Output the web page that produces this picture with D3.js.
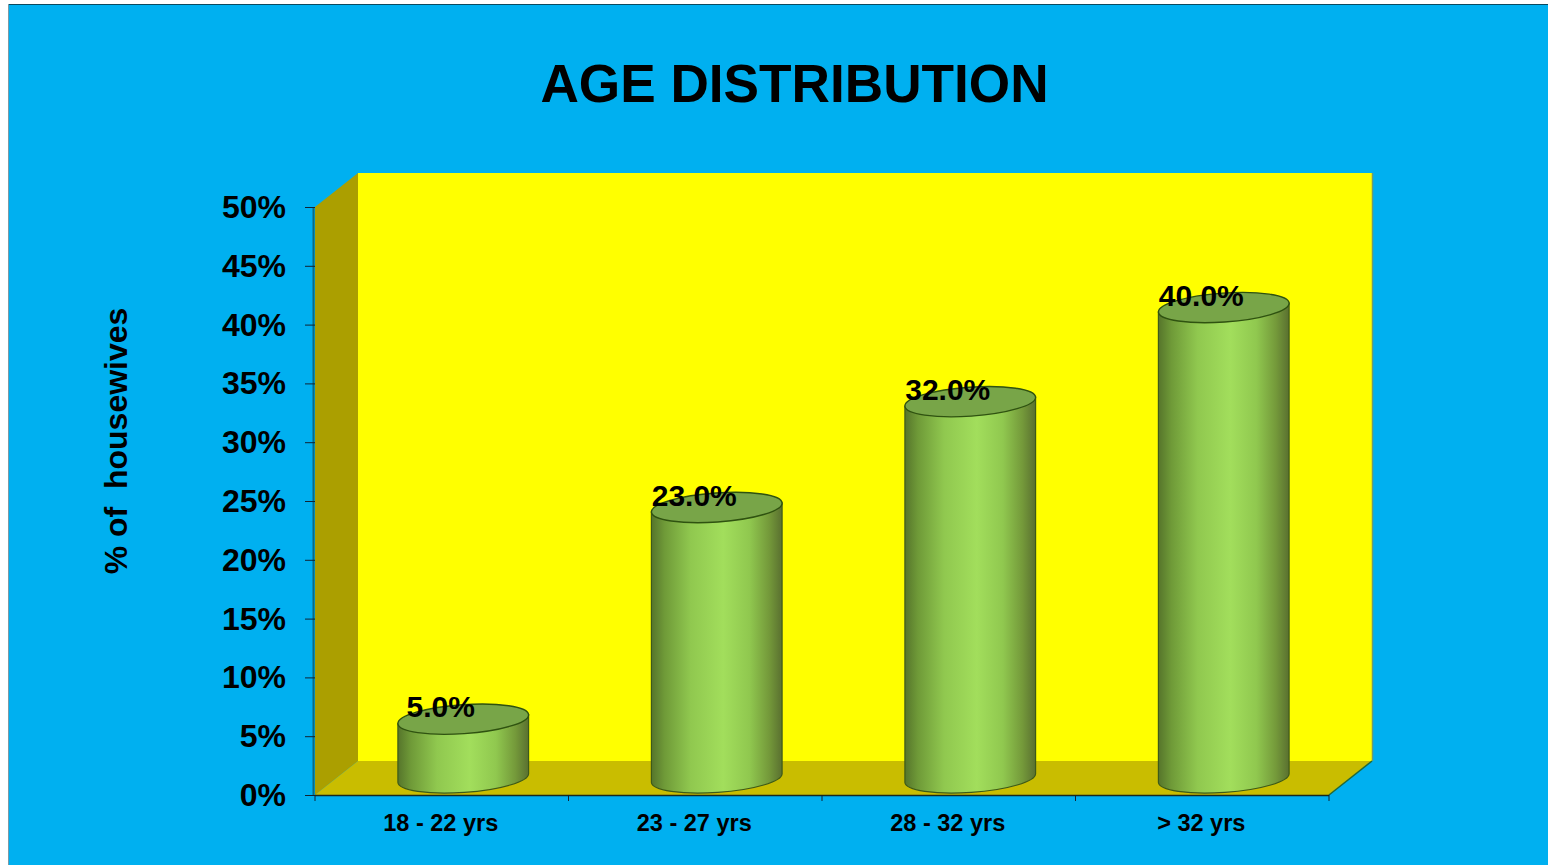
<!DOCTYPE html>
<html>
<head>
<meta charset="utf-8">
<script src="https://cdnjs.cloudflare.com/ajax/libs/d3/7.8.5/d3.min.js"></script>
<style>
html,body{margin:0;padding:0;background:#fff;overflow:hidden}
svg{display:block}
text{font-family:"Liberation Sans",Arial,sans-serif;font-weight:bold;fill:#000}
</style>
</head>
<body>
<svg id="chart" width="1548" height="865"></svg>
<script>
const categories = ["18 - 22 yrs", "23 - 27 yrs", "28 - 32 yrs", "> 32 yrs"];
const shares = [5, 23, 32, 40];
const percentTicks = [0, 5, 10, 15, 20, 25, 30, 35, 40, 45, 50];

const svg = d3.select("#chart");
const plot = {left: 315, right: 1329, top: 207, bottom: 795};
const depth = {x: 43, y: -34};

const x = d3.scaleBand().domain(categories).range([plot.left, plot.right]);
const y = d3.scaleLinear().domain([0, 50]).range([plot.bottom, plot.top]);

const defs = svg.append("defs");
const grad = defs.append("linearGradient").attr("id", "barBody");
[[0, "#56752b"], [0.1, "#6f9a38"], [0.3, "#90c84f"], [0.55, "#a2de5c"], [0.75, "#90c84f"], [0.9, "#74993a"], [1, "#5a7030"]]
  .forEach(([o, c]) => grad.append("stop").attr("offset", o).attr("stop-color", c));

// page panel
svg.append("rect").attr("x", 8).attr("y", 4).attr("width", 1540).attr("height", 861).attr("fill", "#00b0f0");
svg.append("line").attr("x1", 8).attr("x2", 1548).attr("y1", 4.5).attr("y2", 4.5).attr("stroke", "#0b4a60");
svg.append("line").attr("x1", 8.5).attr("x2", 8.5).attr("y1", 4).attr("y2", 865).attr("stroke", "#7d9aa6");

// 3D box: back wall, side wall, floor
const poly = pts => pts.map(p => p.join(",")).join(" ");
const L = plot.left, R = plot.right, T = plot.top, B = plot.bottom;
const dx = depth.x, dy = depth.y;
svg.append("polygon").attr("points", poly([[L + dx, T + dy], [R + dx, T + dy], [R + dx, B + dy], [L + dx, B + dy]]))
  .attr("fill", "#ffff00");
svg.append("line").attr("x1", R + dx + 0.5).attr("x2", R + dx + 0.5).attr("y1", T + dy).attr("y2", B + dy)
  .attr("stroke", "#6f9c70").attr("stroke-width", 1.5);
svg.append("polygon").attr("points", poly([[L, T], [L + dx, T + dy], [L + dx, B + dy], [L, B]]))
  .attr("fill", "#ab9f00");
svg.append("polygon").attr("points", poly([[L, B], [L + dx, B + dy], [R + dx, B + dy], [R, B]]))
  .attr("fill", "#c9bd00");
svg.append("line").attr("x1", R).attr("y1", B).attr("x2", R + dx).attr("y2", B + dy)
  .attr("stroke", "#1f6a3c").attr("stroke-width", 1.5);
svg.append("line").attr("x1", L - 1.5).attr("x2", L - 1.5).attr("y1", T).attr("y2", B)
  .attr("stroke", "#0f6a80").attr("stroke-width", 2);

// cylinders, their elliptical caps slightly tilted
const rx = 65.5, ry = 14.5, tilt = 4;
const ex = rx * Math.cos(tilt * Math.PI / 180), ey = rx * Math.sin(tilt * Math.PI / 180);
const bars = svg.append("g").selectAll("g").data(shares).join("g")
  .attr("transform", (d, i) => `translate(${x(categories[i]) + x.bandwidth() / 2 + dx / 2},${dy / 2})`);
bars.append("path")
  .attr("d", d => `M${-ex},${y(d) + ey} L${-ex},${y(0) + ey} A${rx},${ry} ${-tilt} 0 0 ${ex},${y(0) - ey} L${ex},${y(d) - ey} Z`)
  .attr("fill", "url(#barBody)")
  .attr("stroke", "#3d5a18").attr("stroke-width", 1.2);
bars.append("ellipse")
  .attr("cx", 0).attr("cy", d => y(d)).attr("rx", rx).attr("ry", ry)
  .attr("transform", d => `rotate(${-tilt} 0 ${y(d)})`)
  .attr("fill", "#78a548").attr("stroke", "#2f5210").attr("stroke-width", 1.4);

// axes
const axisLeft = d3.axisLeft(y).tickValues(percentTicks).tickFormat(d => d + "%").tickSize(10).tickPadding(19);
const gy = svg.append("g").attr("transform", `translate(${L},0)`).call(axisLeft);
gy.select(".domain").remove();
gy.selectAll("line").attr("stroke", "#123");
gy.selectAll("text").attr("font-size", 32).attr("dy", "0.33em").style("font-family", null);

const axisBottom = d3.axisBottom(x).tickSize(0).tickPadding(19);
const gx = svg.append("g").attr("transform", `translate(-1,${B})`).call(axisBottom);
gx.select(".domain").attr("stroke", "#1a2a20").attr("stroke-width", 1.5).attr("d", `M${L + 1},0.5H${R + 1}`);
gx.selectAll("text").attr("font-size", 23.5).attr("dy", "0.71em").style("font-family", null);
gx.selectAll("line").remove();
gx.selectAll("line.sep").data(d3.range(categories.length + 1)).join("line").attr("class", "sep")
  .attr("x1", i => L + 1 + i * x.bandwidth()).attr("x2", i => L + 1 + i * x.bandwidth())
  .attr("y1", 0).attr("y2", 6).attr("stroke", "#123");

// value labels
svg.append("g").selectAll("text").data(shares).join("text")
  .attr("x", (d, i) => x(categories[i]) + x.bandwidth() / 2 - 1)
  .attr("y", d => y(d) - 19)
  .attr("text-anchor", "middle").attr("font-size", 30)
  .text(d => d.toFixed(1) + "%");

// titles
svg.append("text").attr("x", 794.5).attr("y", 101.5).attr("text-anchor", "middle").attr("font-size", 53.2)
  .text("AGE DISTRIBUTION");
svg.append("text").attr("transform", "translate(127,441) rotate(-90)").attr("text-anchor", "middle")
  .attr("font-size", 32).attr("xml:space", "preserve").style("white-space", "pre").text("% of  housewives");
</script>
</body>
</html>
